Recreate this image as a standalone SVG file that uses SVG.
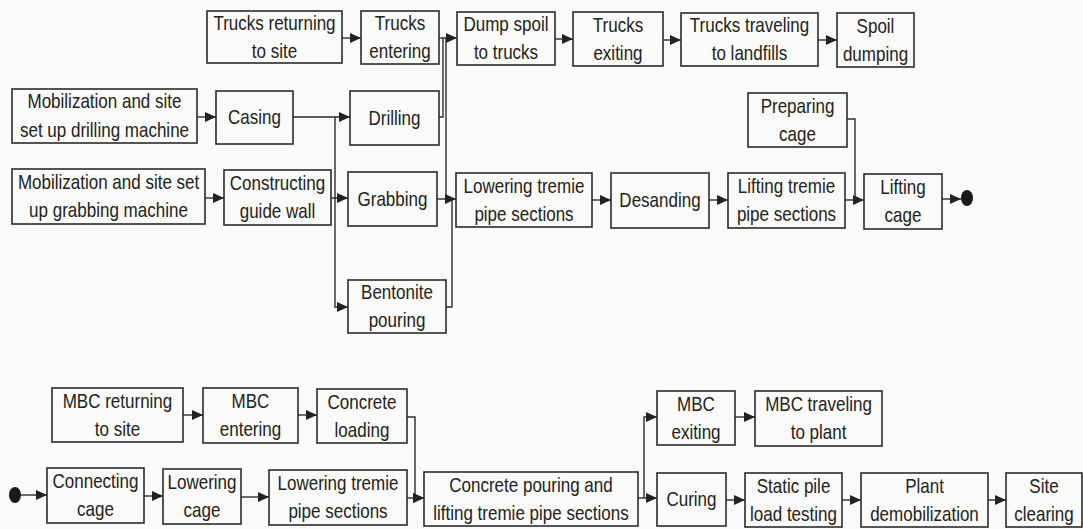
<svg xmlns="http://www.w3.org/2000/svg" width="1083" height="529" viewBox="0 0 1083 529">
<defs>
<marker id="ah" markerUnits="userSpaceOnUse" markerWidth="11" markerHeight="10" refX="11" refY="5" orient="auto" viewBox="0 0 11 10">
<path d="M0,0 L11,5 L0,10 Z" fill="#222"/>
</marker>
<style>
rect{fill:none;stroke:#2b2b2b;stroke-width:1.6}
text{font-family:"Liberation Sans",Arial,sans-serif;font-size:21px;fill:#222;text-anchor:middle;transform-box:fill-box;transform-origin:center;transform:scaleX(0.81)}
.c path{fill:none;stroke:#2b2b2b;stroke-width:1.4}
.c .a{marker-end:url(#ah)}
.dot{fill:#1a1a1a}
</style>
</defs>
<rect x="0" y="0" width="1083" height="529" style="fill:#fafaf8;stroke:none"/>

<g id="n1"><rect x="207" y="11" width="135" height="52"/><text x="274.5" y="30">Trucks returning</text><text x="274.5" y="58">to site</text></g>
<g id="n2"><rect x="361" y="11" width="78" height="53"/><text x="400" y="30.5">Trucks</text><text x="400" y="58.5">entering</text></g>
<g id="n3"><rect x="457" y="12" width="98" height="53"/><text x="506" y="31.5">Dump spoil</text><text x="506" y="59.5">to trucks</text></g>
<g id="n4"><rect x="573" y="12" width="90" height="54"/><text x="618" y="32">Trucks</text><text x="618" y="60">exiting</text></g>
<g id="n5"><rect x="681" y="13" width="137" height="53"/><text x="749.5" y="32.5">Trucks traveling</text><text x="749.5" y="60.5">to landfills</text></g>
<g id="n6"><rect x="837" y="13" width="77" height="54"/><text x="875.5" y="33">Spoil</text><text x="875.5" y="61">dumping</text></g>

<g id="n7"><rect x="12" y="89" width="185" height="54"/><text x="104.5" y="108">Mobilization and site</text><text x="104.5" y="137">set up drilling machine</text></g>
<g id="n8"><rect x="216" y="91" width="77" height="53"/><text x="254.5" y="124">Casing</text></g>
<g id="n9"><rect x="350" y="91" width="89" height="54"/><text x="394.5" y="125">Drilling</text></g>
<g id="n10"><rect x="12" y="169" width="193" height="55"/><text x="108.5" y="189.5">Mobilization and site set</text><text x="108.5" y="217.5">up grabbing machine</text></g>
<g id="n11"><rect x="224" y="170" width="107" height="55"/><text x="277.5" y="190.5">Constructing</text><text x="277.5" y="218.5">guide wall</text></g>
<g id="n12"><rect x="348" y="172" width="89" height="54"/><text x="392.5" y="206">Grabbing</text></g>
<g id="n13"><rect x="348" y="280" width="98" height="53"/><text x="397" y="299.5">Bentonite</text><text x="397" y="327.5">pouring</text></g>
<g id="n14"><rect x="456" y="173" width="136" height="54"/><text x="524" y="193">Lowering tremie</text><text x="524" y="221">pipe sections</text></g>
<g id="n15"><rect x="611" y="173" width="98" height="55"/><text x="660" y="207.5">Desanding</text></g>
<g id="n16"><rect x="728" y="173" width="117" height="55"/><text x="786.5" y="193.5">Lifting tremie</text><text x="786.5" y="221.5">pipe sections</text></g>
<g id="n17"><rect x="748" y="93" width="99" height="54"/><text x="797.5" y="113">Preparing</text><text x="797.5" y="141">cage</text></g>
<g id="n18"><rect x="864" y="174" width="78" height="55"/><text x="903" y="194.5">Lifting</text><text x="903" y="222.5">cage</text></g>
<g id="end1"><ellipse class="dot" cx="967" cy="198" rx="6" ry="8"/></g>

<g id="n19"><rect x="52" y="388" width="131" height="54"/><text x="117.5" y="408">MBC returning</text><text x="117.5" y="436">to site</text></g>
<g id="n20"><rect x="203" y="388" width="95" height="55"/><text x="250.5" y="408.5">MBC</text><text x="250.5" y="436.5">entering</text></g>
<g id="n21"><rect x="317" y="389" width="90" height="54"/><text x="362" y="409">Concrete</text><text x="362" y="437">loading</text></g>
<g id="start2"><ellipse class="dot" cx="15" cy="495" rx="6" ry="8"/></g>
<g id="n22"><rect x="47" y="468" width="97" height="55"/><text x="95.5" y="488.5">Connecting</text><text x="95.5" y="516.5">cage</text></g>
<g id="n23"><rect x="163" y="469" width="78" height="55"/><text x="202" y="489.5">Lowering</text><text x="202" y="517.5">cage</text></g>
<g id="n24"><rect x="269" y="470" width="138" height="55"/><text x="338" y="490.5">Lowering tremie</text><text x="338" y="518.5">pipe sections</text></g>
<g id="n25"><rect x="424" y="472" width="214" height="54"/><text x="531" y="492">Concrete pouring and</text><text x="531" y="520">lifting tremie pipe sections</text></g>
<g id="n26"><rect x="657" y="391" width="78" height="54"/><text x="696" y="411">MBC</text><text x="696" y="439">exiting</text></g>
<g id="n27"><rect x="755" y="391" width="127" height="55"/><text x="818.5" y="411.5">MBC traveling</text><text x="818.5" y="439.5">to plant</text></g>
<g id="n28"><rect x="657" y="473" width="69" height="53"/><text x="691.5" y="506.5">Curing</text></g>
<g id="n29"><rect x="745" y="473" width="97" height="54"/><text x="793.5" y="493">Static pile</text><text x="793.5" y="521">load testing</text></g>
<g id="n30"><rect x="861" y="473" width="127" height="54"/><text x="924.5" y="493">Plant</text><text x="924.5" y="521">demobilization</text></g>
<g id="n31"><rect x="1006" y="473" width="76" height="54"/><text x="1044" y="493">Site</text><text x="1044" y="521">clearing</text></g>

<g id="connectors" class="c">
<path class="a" d="M342,38 H361"/>
<path class="a" d="M439,38 H457"/>
<path d="M439,117 H443 V38"/>
<path d="M446,199 V38"/>
<path d="M446,307 H452 V199"/>
<path class="a" d="M555,39 H573"/>
<path class="a" d="M663,40 H681"/>
<path class="a" d="M818,40 H837"/>
<path class="a" d="M197,117 H216"/>
<path class="a" d="M293,117 H350"/>
<path class="a" d="M335,117 V307 H348"/>
<path class="a" d="M205,198 H224"/>
<path class="a" d="M331,198 H348"/>
<path class="a" d="M437,199 H456"/>
<path class="a" d="M592,200 H611"/>
<path class="a" d="M709,200 H728"/>
<path class="a" d="M845,200 H864"/>
<path d="M847,119 H855 V200"/>
<path class="a" d="M942,199 H961"/>
<path class="a" d="M183,415 H203"/>
<path class="a" d="M298,415 H317"/>
<path class="a" d="M407,417 H415 V498 H424"/>
<path class="a" d="M21,495 H47"/>
<path class="a" d="M144,496 H163"/>
<path class="a" d="M241,497 H269"/>
<path class="a" d="M407,498 H424"/>
<path class="a" d="M638,498 H657"/>
<path class="a" d="M644,498 V417 H657"/>
<path class="a" d="M735,417 H755"/>
<path class="a" d="M726,500 H745"/>
<path class="a" d="M842,500 H861"/>
<path class="a" d="M988,500 H1006"/>
</g>
</svg>
